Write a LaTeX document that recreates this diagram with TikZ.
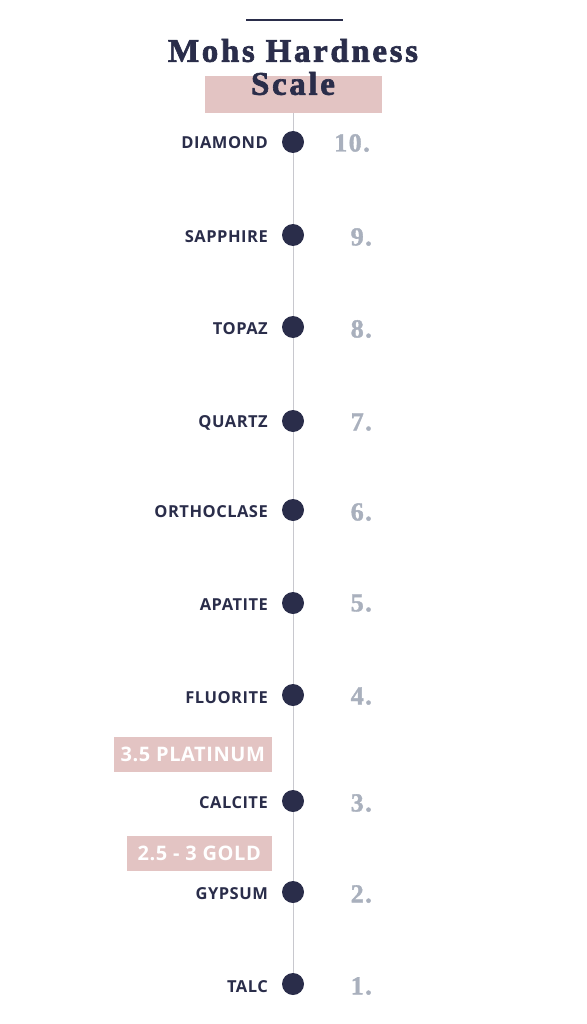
\documentclass[tikz,border=0pt]{standalone}
\usepackage{fontspec}
\setmainfont{Liberation Serif}
\newfontfamily\labelfont{Open Sans}[LetterSpace=3]
\newfontfamily\titlefont{Liberation Serif}[LetterSpace=8, FakeBold=2]
\newfontfamily\numerofont{Liberation Serif}[LetterSpace=6, FakeBold=1.5]
\definecolor{laivasto}{RGB}{42,45,74}
\definecolor{ruusu}{RGB}{227,196,195}
\definecolor{harmaa}{RGB}{200,200,206}
\definecolor{teras}{RGB}{169,176,189}
\tikzset{
  mineraali/.style={anchor=east, text=laivasto, font=\labelfont\bfseries\fontsize{16.5}{18}\selectfont, inner sep=0pt},
  numero/.style={anchor=east, text=teras, font=\numerofont\bfseries\fontsize{26}{28}\selectfont, inner sep=0pt},
  piste/.style={circle, fill=laivasto, minimum size=22pt, inner sep=0pt},
  laatikko/.style={fill=ruusu, text=white, font=\labelfont\bfseries\fontsize{20}{22}\selectfont, inner sep=0pt, anchor=east}
}
\begin{document}
\begin{tikzpicture}[x=1pt,y=-1pt]
				\useasboundingbox (0,0) rectangle (586,1024);
				\draw[laivasto, line width=2pt] (246,20) -- (343,20);
				\node[fill=ruusu, minimum width=177pt, minimum height=37pt, inner sep=0pt] (otsikko) at (293.5,94.5) {};
				\node[text=laivasto, font=\titlefont\bfseries\fontsize{33}{33}\selectfont, align=center, inner sep=0pt] (nimi) at (293,67) {Mohs Hardness\\Scale};
				\coordinate (alku) at (293,113);
				\coordinate (loppu) at (293,984);
				\draw[harmaa, line width=1pt] (alku) -- (loppu);
				% mineraalit
				\node[piste] (d10) at (293,142) {};
				\node[piste] (d9) at (293,235) {};
				\node[piste] (d8) at (293,327) {};
				\node[piste] (d7) at (293,421) {};
				\node[piste] (d6) at (293,510) {};
				\node[piste] (d5) at (293,603) {};
				\node[piste] (d4) at (293,695) {};
				\node[piste] (d3) at (293,801) {};
				\node[piste] (d2) at (293,892) {};
				\node[piste] (d1) at (293,984) {};
				\node[mineraali] (m10) at (268,143) {DIAMOND};
				\node[mineraali] (m9) at (268,237) {SAPPHIRE};
				\node[mineraali] (m8) at (268,329) {TOPAZ};
				\node[mineraali] (m7) at (268,423) {QUARTZ};
				\node[mineraali] (m6) at (268,512) {ORTHOCLASE};
				\node[mineraali] (m5) at (268,605) {APATITE};
				\node[mineraali] (m4) at (268,698) {FLUORITE};
				\node[mineraali] (m3) at (268,803) {CALCITE};
				\node[mineraali] (m2) at (268,894) {GYPSUM};
				\node[mineraali] (m1) at (268,987) {TALC};
				\node[numero] (n10) at (370,143) {10.};
				\node[numero] (n9) at (372,237) {9.};
				\node[numero] (n8) at (372,329) {8.};
				\node[numero] (n7) at (372,422) {7.};
				\node[numero] (n6) at (372,512) {6.};
				\node[numero] (n5) at (372,603) {5.};
				\node[numero] (n4) at (372,696) {4.};
				\node[numero] (n3) at (372,803) {3.};
				\node[numero] (n2) at (372,894) {2.};
				\node[numero] (n1) at (372,986) {1.};
				% metallit
				\node[laatikko, minimum width=158pt, minimum height=35pt] (platina) at (272,754.5) {3.5 PLATINUM};
				\node[laatikko, minimum width=145pt, minimum height=35pt] (kulta) at (272,853.5) {2.5 - 3 GOLD};
			\end{tikzpicture}
\end{document}
